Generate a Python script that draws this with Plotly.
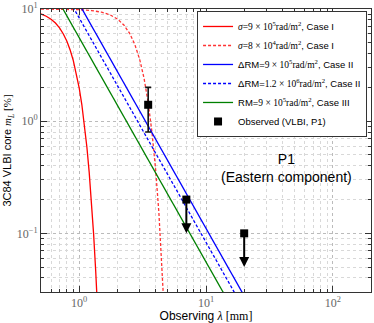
import numpy as np
import plotly.graph_objects as go

# Case I, sigma = 9e5 rad/m^2
lam_s9e5 = [0.5, 0.55, 0.6, 0.65, 0.7, 0.75, 0.8, 0.85, 0.9, 0.95, 1.0,
            1.05, 1.1, 1.15, 1.2, 1.25, 1.3, 1.35, 1.4]
m_s9e5 = [9.04, 8.62, 8.11, 7.49, 6.78, 5.99, 5.15, 4.29, 3.45, 2.67, 1.98,
          1.40, 0.933, 0.588, 0.348, 0.192, 0.098, 0.046, 0.0198]

# Case I, sigma = 8e4 rad/m^2 (red dashed)
lam_s8e4 = [0.5, 0.75, 1.0, 1.25, 1.5, 1.75, 2.0, 2.25, 2.5, 2.75, 3.0,
            3.25, 3.5, 3.75, 4.0, 4.25, 4.4, 4.5, 4.6, 4.75]
m_s8e4 = [9.99, 9.96, 9.87, 9.69, 9.37, 8.87, 8.15, 7.20, 6.07, 4.81, 3.55,
          2.40, 1.46, 0.796, 0.378, 0.154, 0.0825, 0.0525, 0.0324, 0.0148]

# power-law lines (straight in log-log), end points
lam_pl = [0.5, 30.0]
m_drm9e5 = [44.4, 0.0123]     # dRM = 9e5, Case II
m_drm12e5 = [33.3, 0.00926]   # dRM = 1.2e6, Case II
m_rm9e5 = [22.2, 0.00618]     # RM = 9e5, Case III

# observed VLBI points (P1)
obs_lam = [3.5, 7.0, 20.0]
obs_m = [1.4, 0.2, 0.1]
obs_err = [0.6, 0.0, 0.0]
obs_lim = [None, 0.1, 0.05]   # upper limits: arrow tips

xtick_vals = [1, 10, 100]
xtick_text = ["10<sup>0</sup>", "10<sup>1</sup>", "10<sup>2</sup>"]
ytick_vals = [0.1, 1, 10]
ytick_text = ["10<sup>\u22121</sup>", "10<sup>0</sup>", "10<sup>1</sup>"]

SERIF = "Liberation Serif"
SANS = "Liberation Sans"


def m(s):
    return '<span style="font-family:%s">%s</span>' % (SERIF, s)


fig = go.Figure()
fig.add_trace(go.Scatter(x=lam_s9e5, y=m_s9e5, mode='lines',
                         line=dict(color='#ff0000', width=1.3),
                         name=m("<i>σ</i>=9 × 10<sup>5</sup>rad/m<sup>2</sup>") + ", Case I"))
fig.add_trace(go.Scatter(x=lam_s8e4, y=m_s8e4, mode='lines',
                         line=dict(color='#ff3333', width=1.3, dash='3px,2px'),
                         name=m("<i>σ</i>=8 × 10<sup>4</sup>rad/m<sup>2</sup>") + ", Case I"))
fig.add_trace(go.Scatter(x=lam_pl, y=m_drm9e5, mode='lines',
                         line=dict(color='#0000ff', width=1.3),
                         name="ΔRM=" + m("9 × 10<sup>5</sup>rad/m<sup>2</sup>") + ", Case II"))
fig.add_trace(go.Scatter(x=lam_pl, y=m_drm12e5, mode='lines',
                         line=dict(color='#0000ff', width=1.3, dash='3px,2px'),
                         name="ΔRM=" + m("1.2 × 10<sup>6</sup>rad/m<sup>2</sup>") + ", Case II"))
fig.add_trace(go.Scatter(x=lam_pl, y=m_rm9e5, mode='lines',
                         line=dict(color='#008000', width=1.3),
                         name="RM=" + m("9 × 10<sup>5</sup>rad/m<sup>2</sup>") + ", Case III"))
fig.add_trace(go.Scatter(x=obs_lam, y=obs_m, mode='markers',
                         marker=dict(symbol='square', size=8, color='black'),
                         error_y=dict(type='data', array=obs_err, arrayminus=obs_err,
                                      color='#111111', thickness=1.6, width=3),
                         name="Observed (VLBI, P1)"))

for lx, ly, lim in zip(obs_lam, obs_m, obs_lim):
    if lim is None:
        continue
    fig.add_annotation(x=np.log10(lx), y=np.log10(lim), ax=np.log10(lx), ay=np.log10(ly),
                       xref='x', yref='y', axref='x', ayref='y', text='',
                       showarrow=True, arrowhead=2, arrowsize=1.0, arrowwidth=2,
                       arrowcolor='black', standoff=0, startstandoff=0)

fig.add_annotation(x=np.log10(43.5), y=np.log10(0.38), xref='x', yref='y',
                   text="P1<br>(Eastern component)", showarrow=False,
                   font=dict(family=SANS, size=14, color='black'))

minor_x = [k * 10.0 ** d for d in range(-1, 3) for k in range(2, 10)]
minor_y = [k * 10.0 ** d for d in range(-2, 1) for k in range(2, 10)]

axis_common = dict(type='log', showline=True, linecolor='#333333', linewidth=1,
                   mirror='ticks', ticks='inside', ticklen=6, tickcolor='#333333',
                   showgrid=True, gridcolor='#bbbbbb', griddash='dot', gridwidth=1,
                   zeroline=False, tickmode='array', automargin=False,
                   tickfont=dict(family=SERIF, size=12, color='#666666'))

minor_common = dict(tickmode='array', ticks='inside', ticklen=3, tickcolor='#333333',
                    showgrid=True, gridcolor='#d8d8d8', griddash='dot')

fig.update_layout(
    width=374, height=323,
    margin=dict(l=41, r=3, t=9, b=31),
    plot_bgcolor='white', paper_bgcolor='white',
    font=dict(family=SANS, size=12, color='black'),
    xaxis=dict(axis_common, range=[np.log10(0.5), np.log10(200)],
               tickvals=xtick_vals, ticktext=xtick_text,
               minor=dict(minor_common, tickvals=minor_x),
               title=dict(text="Observing " + m("<i>λ</i> [mm]"), standoff=0,
                          font=dict(family=SANS, size=12))),
    yaxis=dict(axis_common, range=[np.log10(0.03), 1],
               tickvals=ytick_vals, ticktext=ytick_text,
               minor=dict(minor_common, tickvals=minor_y),
               title=dict(text="3C84 VLBI core " + m("<i>m<sub>L</sub></i> [%]"), standoff=2,
                          font=dict(family=SANS, size=11))),
    legend=dict(x=0.988, y=0.993, xanchor='right', yanchor='top',
                bgcolor='white', bordercolor='#333333', borderwidth=1,
                font=dict(family=SANS, size=9.5, color='black'),
                itemwidth=30, tracegroupgap=0),
    showlegend=True,
)

# drop the default page margin so the figure sits at the window's corner
fig.write_html("out.html", config={'displayModeBar': False},
               post_script="document.body.style.margin='0px';")
